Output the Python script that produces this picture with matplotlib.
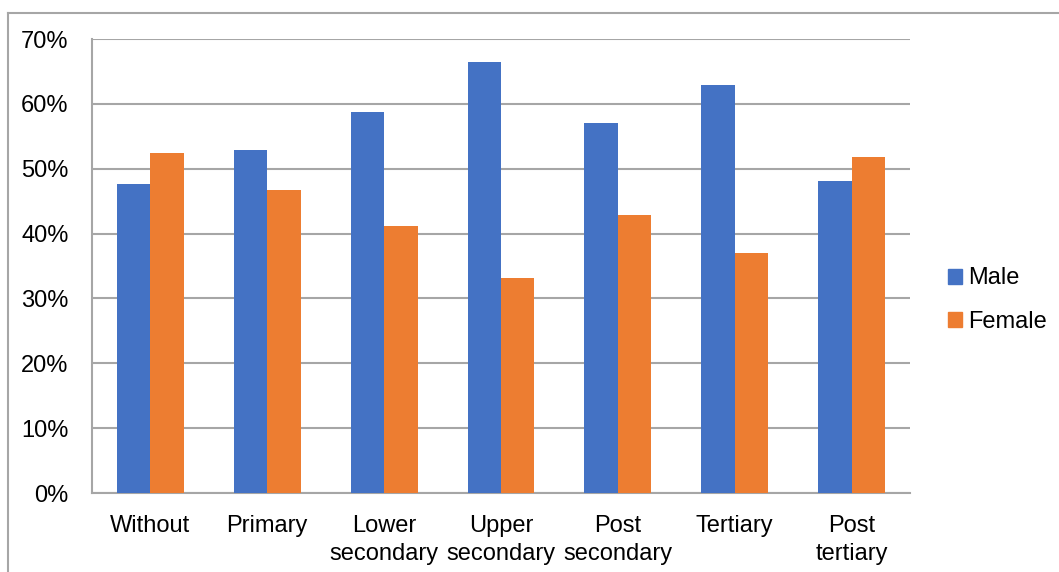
import matplotlib
matplotlib.use("Agg")
import matplotlib.pyplot as plt
from matplotlib.lines import Line2D
from matplotlib.patches import Patch
import numpy as np

plt.rcParams['font.family'] = ['Liberation Sans', 'DejaVu Sans']

categories = ["Without", "Primary", "Lower\nsecondary", "Upper\nsecondary",
              "Post\nsecondary", "Tertiary", "Post\ntertiary"]
male = [47.6, 52.9, 58.7, 66.5, 57.0, 62.9, 48.1]
female = [52.4, 46.7, 41.2, 33.1, 42.9, 37.0, 51.8]
yticks = [0, 10, 20, 30, 40, 50, 60, 70]

W, H = 1059, 572
fig = plt.figure(figsize=(W / 100, H / 100), dpi=100)
ax = fig.add_axes([92 / W, 1 - 493 / H, (910 - 92) / W, (493 - 39) / H])

blue = "#4472C4"
orange = "#ED7D31"
grid = "#A6A6A6"
fs = 17

x = np.arange(len(categories))
bw = 1 / 3.5
ax.bar(x - bw / 2, male, bw, color=blue, zorder=3, label="Male")
ax.bar(x + bw / 2, female, bw, color=orange, zorder=3, label="Female")

ax.set_xlim(-0.5, len(categories) - 0.5)
ax.set_ylim(0, 70)
ax.set_yticks(yticks)
ax.set_yticklabels([f"{v}%" for v in yticks])
ax.set_xticks(x)
ax.set_xticklabels(categories, linespacing=1.35)
ax.tick_params(axis="both", length=0, labelsize=fs, colors="black")
ax.tick_params(axis="y", pad=17)
ax.tick_params(axis="x", pad=16)
ax.yaxis.grid(True, color=grid, linewidth=1.5, zorder=0)
for s in ("top", "right"):
    ax.spines[s].set_visible(False)
for s in ("left", "bottom"):
    ax.spines[s].set_color(grid)
    ax.spines[s].set_linewidth(1.5)

handles = [Patch(color=blue, label="Male"), Patch(color=orange, label="Female")]
fig.legend(handles=handles, loc="center left", bbox_to_anchor=(948 / W, 1 - 300 / H),
           frameon=False, fontsize=fs, handlelength=0.6, handleheight=0.6,
           handletextpad=0.25, labelspacing=0.9, borderpad=0, borderaxespad=0)

# outer chart border
fig.add_artist(Line2D([8 / W, 8 / W], [0, 1 - 13 / H], color=grid, linewidth=1.5,
                      transform=fig.transFigure))
fig.add_artist(Line2D([8 / W, 1058 / W], [1 - 13 / H, 1 - 13 / H], color=grid,
                      linewidth=1.5, transform=fig.transFigure))

fig.savefig("out.png", dpi=100)
